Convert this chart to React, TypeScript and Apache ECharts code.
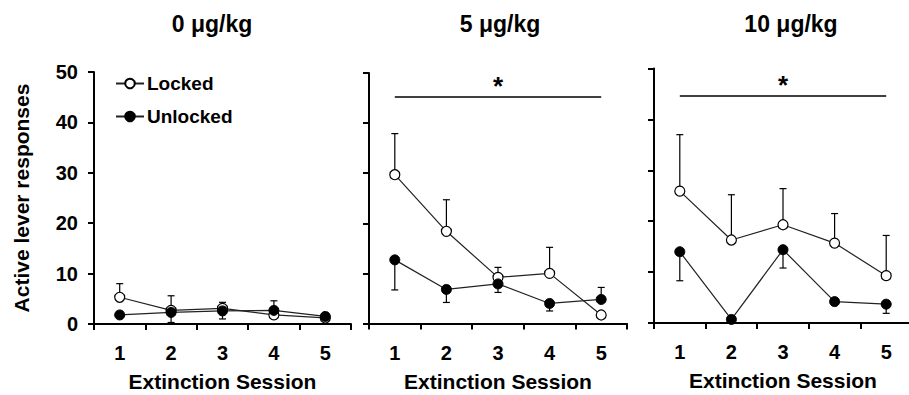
import React, { useEffect, useRef } from "react";
import * as echarts from "echarts";

const sessions = ["1", "2", "3", "4", "5"];
const panelTitles = ["0 \u03bcg/kg", "5 \u03bcg/kg", "10 \u03bcg/kg"];
const yTicks = [0, 10, 20, 30, 40, 50];

// Locked (open circles) means and error (signed: + up, - down)
const locked0 = [5.3, 2.7, 3.1, 1.8, 1.2];
const lockedErr0 = [2.7, 2.9, 1.2, 2.8, 0];
const unlocked0 = [1.8, 2.3, 2.6, 2.7, 1.5];
const unlockedErr0 = [0, -2.0, -1.6, 0, 0];

const locked5 = [29.7, 18.4, 9.2, 10.0, 1.7];
const lockedErr5 = [8.2, 6.3, 2.0, 5.2, 0];
const unlocked5 = [12.7, 6.8, 7.9, 4.0, 4.8];
const unlockedErr5 = [-6.0, -2.6, -1.7, -1.5, 2.4];

const locked10 = [25.9, 16.3, 19.3, 15.7, 9.3];
const lockedErr10 = [11.1, 8.9, 7.1, 5.8, 7.9];
const unlocked10 = [14.0, 0.7, 14.4, 4.2, 3.7];
const unlockedErr10 = [-5.7, 0, -3.6, 0, -1.8];

const significance = [null, 45.3, 44.6];

const FONT = "'Liberation Sans', Arial, sans-serif";

export default function App() {
  const ref = useRef<HTMLDivElement>(null);
  useEffect(() => {
    if (!ref.current) return;
    const chart = echarts.init(ref.current, null, { renderer: "svg" });

    const grids = [
      { left: 94, top: 72, width: 257, height: 252 },
      { left: 369, top: 73, width: 258, height: 250.5 },
      { left: 654, top: 68.5, width: 258, height: 254.5 },
    ].map((g) => ({ ...g, outerBoundsMode: "none", containLabel: false }));

    const lockedAll = [locked0, locked5, locked10];
    const lockedErrAll = [lockedErr0, lockedErr5, lockedErr10];
    const unlockedAll = [unlocked0, unlocked5, unlocked10];
    const unlockedErrAll = [unlockedErr0, unlockedErr5, unlockedErr10];

    const errRender = (params: any, api: any) => {
      const x = api.value(0);
      const y = api.value(1);
      const e = api.value(2);
      if (!e) return null;
      const p0 = api.coord([x, y]);
      const p1 = api.coord([x, y + e]);
      const hw = 3.5;
      return {
        type: "group",
        children: [
          {
            type: "line",
            shape: { x1: p0[0], y1: p0[1], x2: p1[0], y2: p1[1] },
            style: { stroke: "#000", lineWidth: 1.2 },
          },
          {
            type: "line",
            shape: { x1: p1[0] - hw, y1: p1[1], x2: p1[0] + hw, y2: p1[1] },
            style: { stroke: "#000", lineWidth: 1.2 },
          },
        ],
      };
    };

    const series: any[] = [];
    for (let p = 0; p < 3; p++) {
      const sig = significance[p];
      series.push({
        type: "custom",
        xAxisIndex: p,
        yAxisIndex: p,
        renderItem: errRender,
        data: lockedAll[p].map((v, i) => [i, v, lockedErrAll[p][i]]),
        z: 1,
        silent: true,
      });
      series.push({
        type: "custom",
        xAxisIndex: p,
        yAxisIndex: p,
        renderItem: errRender,
        data: unlockedAll[p].map((v, i) => [i, v, unlockedErrAll[p][i]]),
        z: 1,
        silent: true,
      });
      series.push({
        name: "Locked",
        type: "line",
        xAxisIndex: p,
        yAxisIndex: p,
        data: lockedAll[p],
        symbol: "circle",
        symbolSize: 10,
        itemStyle: { color: "#fff", borderColor: "#000", borderWidth: 1.2 },
        lineStyle: { color: "#222", width: 1.2 },
        z: 3,
        markLine: sig
          ? {
              symbol: "none",
              silent: true,
              lineStyle: { color: "#000", width: 1.5, type: "solid" },
              label: {
                show: true,
                position: "middle",
                formatter: "*",
                fontSize: 26,
                fontWeight: "bold",
                fontFamily: FONT,
                color: "#000",
                distance: -2,
              },
              data: [[{ coord: [0, sig] }, { coord: [4, sig] }]],
            }
          : undefined,
      });
      series.push({
        name: "Unlocked",
        type: "line",
        xAxisIndex: p,
        yAxisIndex: p,
        data: unlockedAll[p],
        symbol: "circle",
        symbolSize: 10,
        itemStyle: { color: "#000", borderColor: "#000", borderWidth: 1 },
        lineStyle: { color: "#222", width: 1.2 },
        z: 4,
      });
    }

    const option: any = {
      animation: false,
      backgroundColor: "#fff",
      title: panelTitles.map((t, i) => ({
        text: t,
        left: [207, 495, 786][i],
        top: 7,
        textAlign: "center",
        textStyle: { fontSize: 23, fontWeight: "bold", fontFamily: FONT, color: "#000" },
      })),
      legend: {
        data: ["Locked", "Unlocked"],
        orient: "vertical",
        left: 115,
        top: 74,
        itemGap: 14,
        itemWidth: 28,
        itemHeight: 12,
        padding: 0,
        textStyle: { fontSize: 19, fontWeight: "bold", fontFamily: FONT, color: "#000", padding: [0, 0, 0, -2] },
      },
      grid: grids,
      xAxis: [0, 1, 2].map((i) => ({
        type: "category",
        gridIndex: i,
        data: sessions,
        boundaryGap: true,
        name: "Extinction Session",
        nameLocation: "middle",
        nameGap: 47,
        nameTextStyle: { fontSize: 21, fontWeight: "bold", fontFamily: FONT, color: "#000" },
        axisLine: { show: true, lineStyle: { color: "#000", width: 2 } },
        axisTick: { show: true, length: 6, lineStyle: { color: "#000", width: 2 } },
        axisLabel: { margin: 19, fontSize: 20, fontWeight: "bold", fontFamily: FONT, color: "#000" },
        splitLine: { show: false },
      })),
      yAxis: [0, 1, 2].map((i) => ({
        type: "value",
        gridIndex: i,
        min: yTicks[0],
        max: yTicks[yTicks.length - 1],
        interval: 10,
        name: i === 0 ? "Active lever responses" : "",
        nameLocation: "middle",
        nameRotate: 90,
        nameGap: 62,
        nameTextStyle: { fontSize: 21, fontWeight: "bold", fontFamily: FONT, color: "#000" },
        axisLine: { show: true, lineStyle: { color: "#000", width: 2 } },
        axisTick: { show: true, length: 6, lineStyle: { color: "#000", width: 2 } },
        axisLabel: { show: i === 0, margin: 16, fontSize: 20, fontWeight: "bold", fontFamily: FONT, color: "#000" },
        splitLine: { show: false },
      })),
      series,
    };
    chart.setOption(option);
    return () => chart.dispose();
  }, []);
  return (
    <div
      ref={ref}
      style={{ position: "absolute", left: 0, top: 0, width: 909, height: 395, overflow: "hidden" }}
    />
  );
}
